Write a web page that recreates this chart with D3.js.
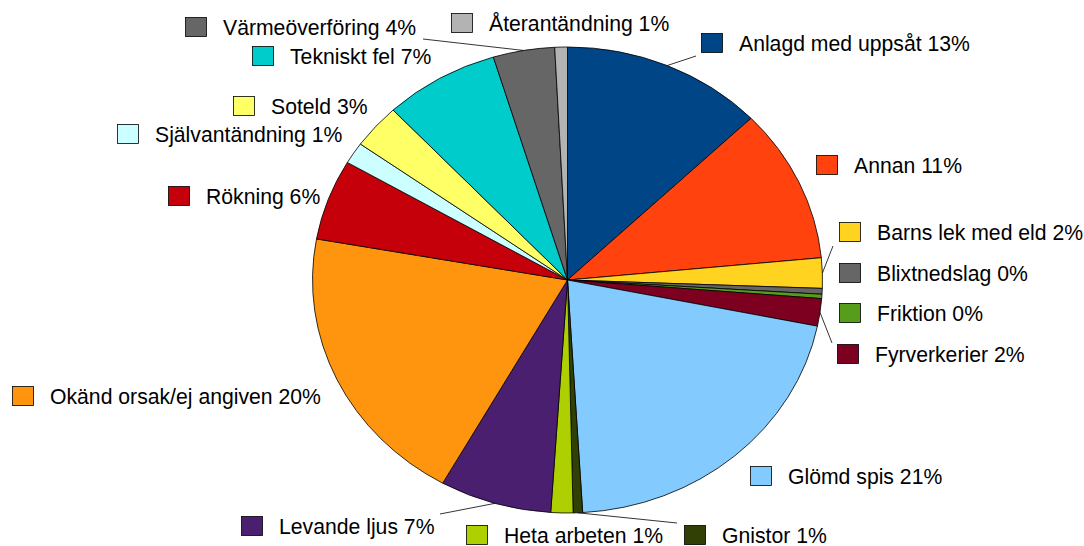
<!DOCTYPE html>
<html><head><meta charset="utf-8">
<script src="https://cdn.jsdelivr.net/npm/d3@7"></script>
<style>
html,body{margin:0;padding:0;background:#fff;}
svg{display:block;}
text{font-family:"Liberation Sans",Arial,sans-serif;font-size:21.2px;fill:#000;}
</style></head><body>
<svg id="chart" width="1084" height="546"></svg>
<script>
// ---- data ----
const categories = ["Anlagd med uppsåt","Annan","Barns lek med eld","Blixtnedslag","Friktion","Fyrverkerier","Glömd spis","Gnistor","Heta arbeten","Levande ljus","Okänd orsak/ej angiven","Rökning","Självantändning","Soteld","Tekniskt fel","Värmeöverföring","Återantändning"];
const values = [12.8,10.7,2.1,0.4,0.3,1.9,20.9,0.6,1.4,7.1,19.7,5.6,1.5,3.1,7.3,3.9,0.8];
const pctLabels = ["13%","11%","2%","0%","0%","2%","21%","1%","1%","7%","20%","6%","1%","3%","7%","4%","1%"];
const colors = ["#004586","#ff420e","#ffd320","#666666","#579d1c","#7e0021","#83caff","#314004","#aecf00","#4b1f6f","#ff950e","#c5000b","#ccffff","#ffff66","#00cccc","#666666","#b3b3b3"];

// ---- layout ----
const cx = 567.5, cy = 280, rx = 255, ry = 233;
// legend label anchor: swatch left x, row centre y
const labelPos = [[701,43],[816,165],[839,232],[839,273],[839,313],[837,354],[750,476],[684,535],[466,535],[241,526],[12,396],[168,196],[117,134],[233,106],[252,56],[185,27],[451,23]];
// leader line end points (label side) for selected slices
const leaders = {0:[696,56],2:[833,246],5:[832,343],7:[677,523],9:[440,514],15:[423,39]};

const svg = d3.select("#chart");
const pie = d3.pie().sort(null).value(d=>d)(values);
const arc = d3.arc().innerRadius(0).outerRadius(rx);

const g = svg.append("g").attr("transform",`translate(${cx},${cy}) scale(1,${ry/rx})`);
g.selectAll("path").data(pie).join("path")
  .attr("d",arc)
  .attr("fill",(d,i)=>colors[i])
  .attr("stroke","#000")
  .attr("stroke-width",0.8)
  .attr("vector-effect","non-scaling-stroke");

// leader lines
Object.keys(leaders).forEach(k=>{
  const d = pie[+k];
  const a = (d.startAngle+d.endAngle)/2;
  const x1 = cx + rx*Math.sin(a), y1 = cy - ry*Math.cos(a);
  const [x2,y2] = leaders[k];
  svg.append("line").attr("x1",x1).attr("y1",y1).attr("x2",x2).attr("y2",y2)
    .attr("stroke","#000").attr("stroke-width",0.8);
});

// labels
const lg = svg.append("g");
categories.forEach((c,i)=>{
  const [sx,sy] = labelPos[i];
  lg.append("rect").attr("x",sx+0.5).attr("y",sy-9.5).attr("width",21).attr("height",19)
    .attr("fill",colors[i]).attr("stroke","#000").attr("stroke-width",0.8);
  lg.append("text").attr("x",sx+38).attr("y",sy+8).text(c+" "+pctLabels[i]);
});
</script>
</body></html>
